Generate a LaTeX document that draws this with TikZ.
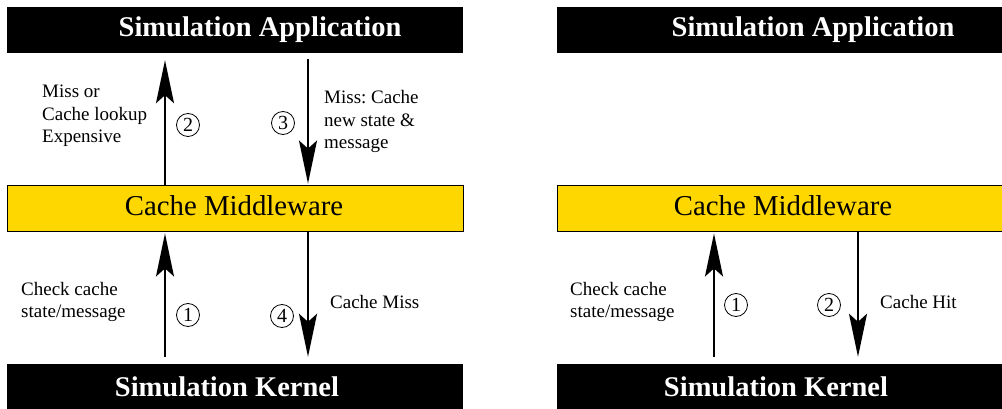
\documentclass[tikz,border=0pt]{standalone}
\usepackage{fontspec}
\setmainfont{Liberation Serif}
\usetikzlibrary{arrows.meta}
\definecolor{mwyellow}{RGB}{255,215,0}
\frenchspacing
\tikzset{
  blackbox/.style={fill=black, draw=none, inner sep=0pt, minimum width=456pt},
  mwbox/.style={fill=mwyellow, draw=black, line width=0.9pt, inner sep=0pt, minimum width=456pt, minimum height=46pt},
  titletext/.style={text=white, inner sep=0pt, font=\fontsize{28.5}{32}\selectfont\bfseries},
  mwtext/.style={text=black, inner sep=0pt, font=\fontsize{28.8}{32}\selectfont},
  lbl/.style={inner sep=0pt, align=left, anchor=west, font=\fontsize{19}{22.5}\selectfont},
  num/.style={circle, draw=black, line width=0.8pt, minimum size=23pt, inner sep=0pt, font=\fontsize{20}{22}\selectfont},
  arr/.style={line width=2pt, -{Stealth[length=43pt, width=18pt, inset=8pt]}},
}
\begin{document}
\begin{tikzpicture}[x=1pt,y=-1pt]
\clip (0,0) rectangle (1002,409);
% left panel
\node[blackbox, minimum height=46pt] (appL) at (235,30) {};
\node[mwbox] (mwL) at (235,208) {};
\node[blackbox, minimum height=51pt] (kerL) at (235,389.5) {};
\node[titletext] (appLt) at (260,30) {Simulation Application};
\node[mwtext] (mwLt) at (234,206) {Cache Middleware};
\node[titletext] (kerLt) at (227,387) {Simulation Kernel};
\coordinate (xa) at (165,0);
\coordinate (xb) at (308,0);
\draw[arr, shorten >=7pt] (mwL.north -| xa) -- (appL.south -| xa);
\draw[arr, shorten <=6pt, shorten >=1pt] (appL.south -| xb) -- (mwL.north -| xb);
\draw[arr, shorten <=7pt, shorten >=2pt] (kerL.north -| xa) -- (mwL.south -| xa);
\draw[arr, shorten <=1pt, shorten >=7pt] (mwL.south -| xb) -- (kerL.north -| xb);
\node[num] (n2L) at (188,125) {2};
\node[num] (n3L) at (283,123) {3};
\node[num] (n1L) at (188,315) {1};
\node[num] (n4L) at (282,316) {4};
\node[lbl] (t2L) at (42,116) {Miss or\\Cache lookup\\Expensive};
\node[lbl] (t3L) at (324,121.5) {Miss: Cache\\new state \&\\message};
\node[lbl] (t1L) at (21,302) {Check cache\\state/message};
\node[lbl] (t4L) at (330,302.5) {Cache Miss};
% right panel
\node[blackbox, minimum height=46pt] (appR) at (785,30) {};
\node[mwbox] (mwR) at (785,208) {};
\node[blackbox, minimum height=51pt] (kerR) at (785,389.5) {};
\node[titletext] (appRt) at (813,30) {Simulation Application};
\node[mwtext] (mwRt) at (783,206) {Cache Middleware};
\node[titletext] (kerRt) at (776,387) {Simulation Kernel};
\coordinate (xc) at (714,0);
\coordinate (xd) at (858,0);
\draw[arr, shorten <=7pt, shorten >=2pt] (kerR.north -| xc) -- (mwR.south -| xc);
\draw[arr, shorten <=1pt, shorten >=7pt] (mwR.south -| xd) -- (kerR.north -| xd);
\node[num] (n1R) at (736,305) {1};
\node[num] (n2R) at (829,305) {2};
\node[lbl] (t1R) at (570,302) {Check cache\\state/message};
\node[lbl] (t2R) at (880,302.5) {Cache Hit};
\end{tikzpicture}
\end{document}
